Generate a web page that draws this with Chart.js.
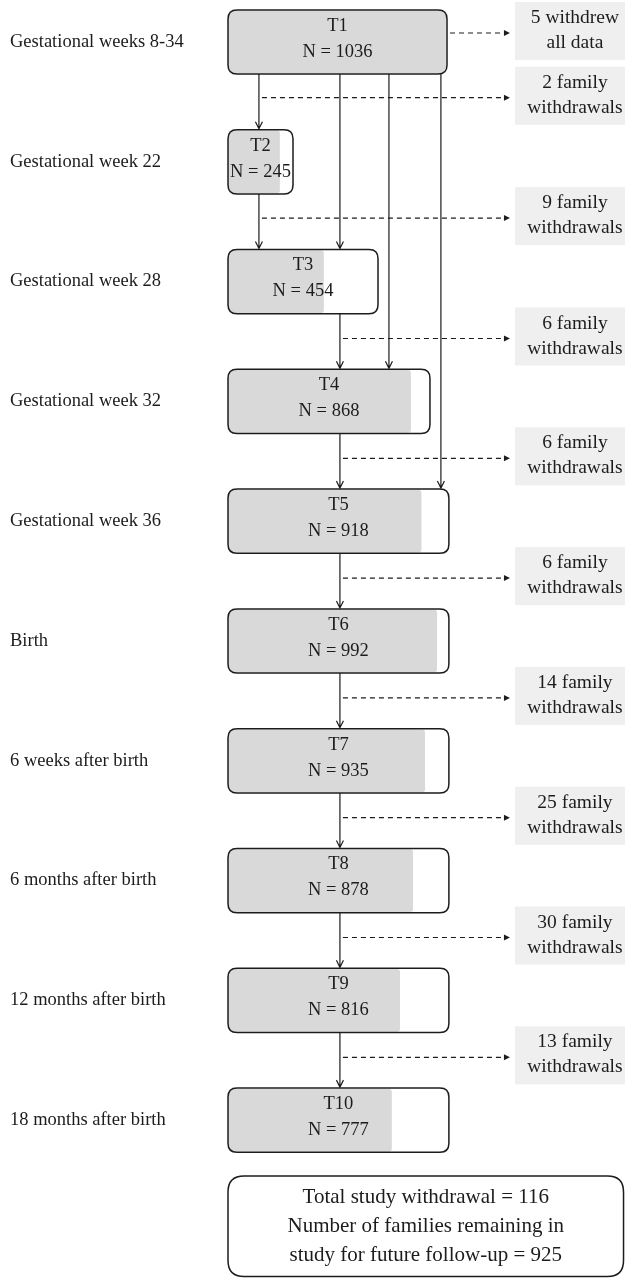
<!DOCTYPE html>
<html>
<head>
<meta charset="utf-8">
<script src="https://cdn.jsdelivr.net/npm/chart.js@4.4.1/dist/chart.umd.min.js"></script>
<style>
html, body { margin: 0; padding: 0; background: #fff; }
#wrap { width: 625px; height: 1278px; position: relative; }
</style>
</head>
<body>
<div id="wrap"><canvas id="flow"></canvas></div>
<script>
// study timepoints and who took part
const timepoints = ['T1', 'T2', 'T3', 'T4', 'T5', 'T6', 'T7', 'T8', 'T9', 'T10'];
const periods = [
    'Gestational weeks 8-34', 'Gestational week 22', 'Gestational week 28',
    'Gestational week 32', 'Gestational week 36', 'Birth', '6 weeks after birth',
    '6 months after birth', '12 months after birth', '18 months after birth'
];
const participants = [1036, 245, 454, 868, 918, 992, 935, 878, 816, 777];
const withdrawals = [
    ['5 withdrew', 'all data'], ['2 family', 'withdrawals'], ['9 family', 'withdrawals'],
    ['6 family', 'withdrawals'], ['6 family', 'withdrawals'], ['6 family', 'withdrawals'],
    ['14 family', 'withdrawals'], ['25 family', 'withdrawals'], ['30 family', 'withdrawals'],
    ['13 family', 'withdrawals']
];
const summary = ['Total study withdrawal = 116', 'Number of families remaining in', 'study for future follow-up = 925'];

// layout: x in N units, y in row units (row 1 = T1)
const boxEnd = [1041, 309, 713, 960, 1050, 1050, 1050, 1050, 1050, 1050];
const rowHalf = 0.268;
const sideStart = 1364, sideEnd = 1934, arrowEnd = 1340;
const colA = 147, colB = 532, colC = 765, colD = 1012;
// [x, from row, to row]
const links = [[colA, 1, 2], [colB, 1, 3], [colC, 1, 4], [colD, 1, 5], [colA, 2, 3]];
for (let r = 3; r < 10; r++) links.push([colB, r, r + 1]);
// dashed arrows: [start x, row]
const exits = [[1041, 0.925], [colA, 1.465], [colA, 2.47]];
for (let r = 3; r < 10; r++) exits.push([colB, r + 0.475]);

const SERIF = '"Liberation Serif", "Times New Roman", serif';
const INK = '#1c1c1c';

function roundRect(ctx, x0, y0, x1, y1, r) {
    ctx.beginPath();
    ctx.moveTo(x0 + r, y0);
    ctx.lineTo(x1 - r, y0);
    ctx.quadraticCurveTo(x1, y0, x1, y0 + r);
    ctx.lineTo(x1, y1 - r);
    ctx.quadraticCurveTo(x1, y1, x1 - r, y1);
    ctx.lineTo(x0 + r, y1);
    ctx.quadraticCurveTo(x0, y1, x0, y1 - r);
    ctx.lineTo(x0, y0 + r);
    ctx.quadraticCurveTo(x0, y0, x0 + r, y0);
    ctx.closePath();
}

const flowPlugin = {
    id: 'flow',
    afterDatasetsDraw(chart) {
        const ctx = chart.ctx;
        const X = v => chart.scales.x.getPixelForValue(v);
        const Y = v => chart.scales.y.getPixelForValue(v);
        ctx.save();
        ctx.strokeStyle = INK;
        ctx.fillStyle = INK;
        ctx.textAlign = 'center';
        ctx.textBaseline = 'middle';

        // timepoint boxes
        timepoints.forEach((t, i) => {
            const x0 = X(0), x1 = X(boxEnd[i]);
            const y0 = Y(i + 1 - rowHalf), y1 = Y(i + 1 + rowHalf);
            ctx.lineWidth = 1.5;
            roundRect(ctx, x0, y0, x1, y1, 9);
            ctx.stroke();
            const cx = (x0 + x1) / 2, cy = Y(i + 1);
            ctx.font = '18.5px ' + SERIF;
            ctx.fillText(t, cx, cy - 16);
            ctx.fillText('N = ' + participants[i], cx, cy + 10);
        });

        // solid arrows down
        ctx.lineWidth = 1.2;
        links.forEach(([v, a, b]) => {
            const x = X(v), ya = Y(a + rowHalf), yb = Y(b - rowHalf) - 1;
            ctx.beginPath();
            ctx.moveTo(x, ya);
            ctx.lineTo(x, yb);
            ctx.moveTo(x - 3.5, yb - 7);
            ctx.lineTo(x, yb);
            ctx.lineTo(x + 3.5, yb - 7);
            ctx.stroke();
        });

        // dashed arrows to the withdrawal boxes
        exits.forEach(([v, r]) => {
            const x0 = X(v) + 3, x1 = X(arrowEnd), y = Y(r);
            ctx.setLineDash([5, 4]);
            ctx.beginPath();
            ctx.moveTo(x0, y);
            ctx.lineTo(x1 - 5, y);
            ctx.stroke();
            ctx.setLineDash([]);
            ctx.beginPath();
            ctx.moveTo(x1, y);
            ctx.lineTo(x1 - 6, y - 3);
            ctx.lineTo(x1 - 6, y + 3);
            ctx.closePath();
            ctx.fill();
        });

        // withdrawal boxes
        withdrawals.forEach((lines, i) => {
            const y = Y(exits[i][1]) - 2;
            const x0 = X(sideStart), x1 = X(sideEnd);
            ctx.fillStyle = '#efefef';
            ctx.fillRect(x0, y - 29, x1 - x0, 58);
            ctx.fillStyle = INK;
            ctx.font = '19.5px ' + SERIF;
            const cx = (x0 + x1) / 2;
            ctx.fillText(lines[0], cx, y - 13);
            ctx.fillText(lines[1], cx, y + 12);
        });

        // summary box
        const sx0 = X(0), sx1 = X(1880), sy0 = Y(10.466), sy1 = Y(11.305);
        ctx.lineWidth = 1.5;
        roundRect(ctx, sx0, sy0, sx1, sy1, 16);
        ctx.stroke();
        ctx.font = '21px ' + SERIF;
        const scx = (sx0 + sx1) / 2, scy = (sy0 + sy1) / 2;
        summary.forEach((s, k) => ctx.fillText(s, scx, scy + (k - 1) * 29));
        ctx.restore();
    }
};

new Chart(document.getElementById('flow'), {
    type: 'bar',
    data: {
        datasets: [{
            label: 'N',
            data: participants.map((n, i) => ({ x: n, y: i + 1 })),
            backgroundColor: '#d9d9d9',
            borderWidth: 0,
            borderSkipped: false,
            borderRadius: c => participants[c.dataIndex] >= boxEnd[c.dataIndex] - 10
                ? 8 : { topLeft: 8, bottomLeft: 8, topRight: 3, bottomRight: 3 },
            barThickness: 62
        }]
    },
    options: {
        indexAxis: 'y',
        responsive: true,
        maintainAspectRatio: false,
        animation: false,
        layout: { padding: { left: 10, right: 0, top: 0, bottom: 0 } },
        plugins: { legend: { display: false }, tooltip: { enabled: false } },
        scales: {
            x: { type: 'linear', min: 0, max: 1887, display: false },
            y: {
                type: 'linear',
                reverse: true,
                offset: false,
                min: 0.6494,
                max: 11.317,
                afterBuildTicks: ax => { ax.ticks = periods.map((p, i) => ({ value: i + 1 })); },
                afterFit: ax => { ax.width = 218; ax.paddingTop = 0; ax.paddingBottom = 0; },
                grid: { display: false },
                border: { display: false },
                ticks: {
                    autoSkip: false,
                    crossAlign: 'far',
                    padding: 0,
                    color: INK,
                    font: { family: SERIF, size: 18.5 },
                    callback: v => periods[v - 1]
                }
            }
        }
    },
    plugins: [flowPlugin]
});
</script>
</body>
</html>
